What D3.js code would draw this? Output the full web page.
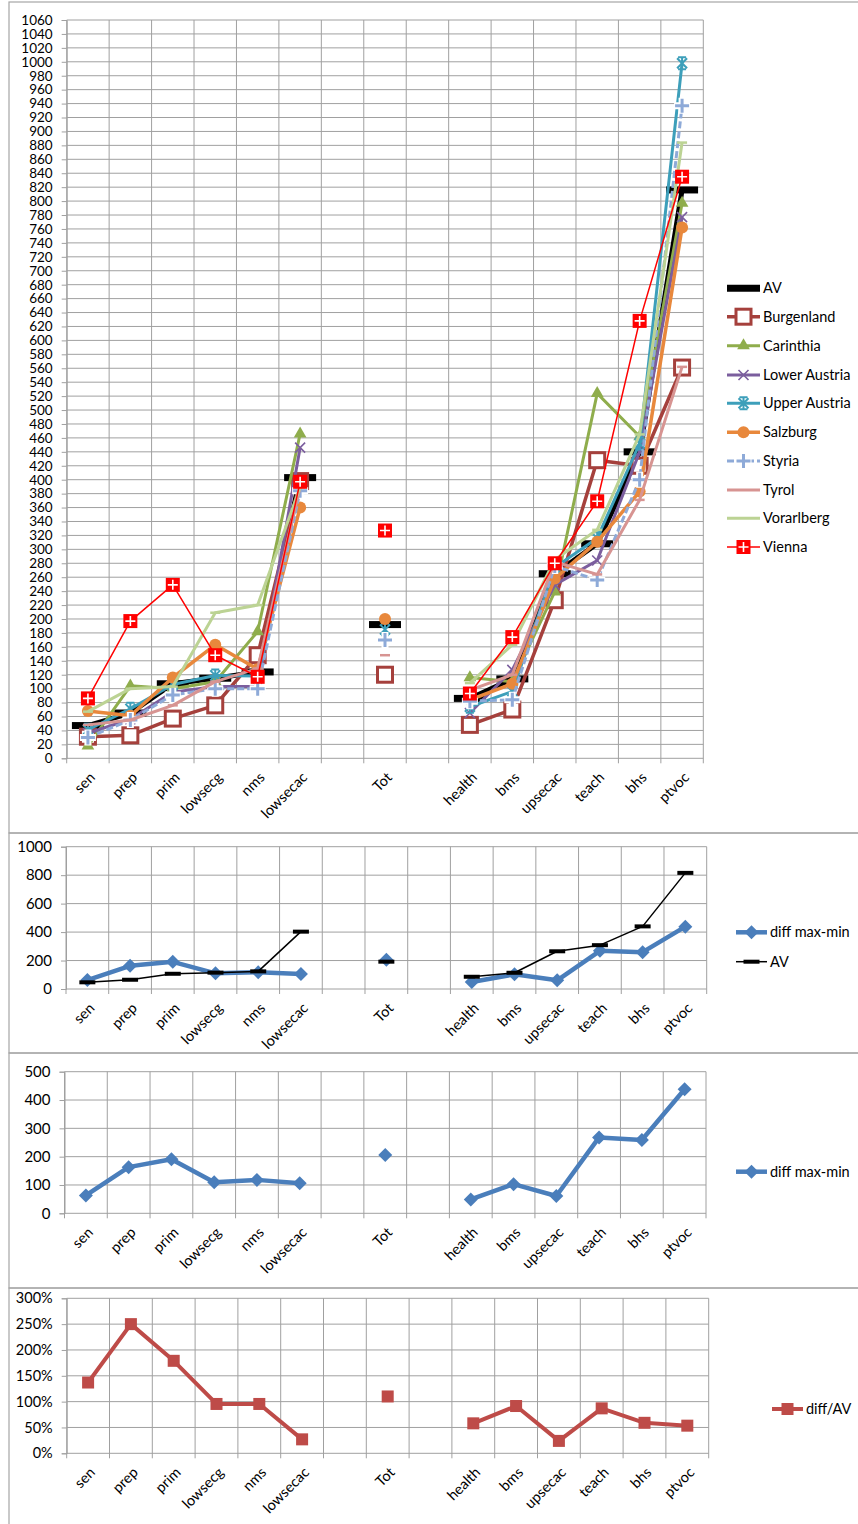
<!DOCTYPE html>
<html><head><meta charset="utf-8">
<script src="https://cdn.jsdelivr.net/npm/d3@7"></script>
<style>body{margin:0;background:#fff}svg{display:block}text{font-family:Lato,"Open Sans",sans-serif;fill:#000}</style>
</head><body><svg id="c" width="858" height="1524"></svg>
<script>
// ---------- DATA ----------
const categories = ["sen","prep","prim","lowsecg","nms","lowsecac","","Tot","","health","bms","upsecac","teach","bhs","ptvoc"];
const seriesNames = ["AV","Burgenland","Carinthia","Lower Austria","Upper Austria","Salzburg","Styria","Tyrol","Vorarlberg","Vienna"];
const avValues     = [47,65,107,115,124,403,null,192,null,86,114,265,308,440,816];
const burgenland   = [31,33,57,76,148,398,null,120,null,48,70,227,428,420,561];
const carinthia    = [18,104,100,110,182,466,null,null,null,116,110,239,524,462,797];
const lowerAustria = [36,56,95,103,103,446,null,null,null,65,127,249,284,440,777];
const upperAustria = [41,71,106,119,118,392,null,185,null,74,96,274,316,452,998];
const salzburg     = [68,61,116,163,128,360,null,200,null,84,107,258,311,383,762];
const styria       = [30,55,91,100,100,384,null,170,null,82,84,276,256,400,937];
const tyrol        = [48,55,76,110,129,390,null,148,null,98,120,282,264,371,562];
const vorarlberg   = [67,100,103,209,220,389,null,null,null,108,163,285,328,465,884];
const vienna       = [86,197,249,148,117,397,null,327,null,93,174,280,369,628,835];
const diffMaxMin   = [63,163,191,110,118,106,null,206,null,49,103,61,268,259,438];
const diffPerAV    = [1.37,2.50,1.79,0.955,0.955,0.27,null,1.10,null,0.58,0.915,0.24,0.87,0.59,0.535];
const mainTicks  = d3.range(0,1061,20);
const panel2Ticks = [0,200,400,600,800,1000];
const panel3Ticks = [0,100,200,300,400,500];
const panel4Ticks = [0,0.5,1,1.5,2,2.5,3];

// ---------- STYLE ----------
const mainSeries = [
  {name:seriesNames[0], values:avValues,     color:"#000000", w:5,   marker:"avdash"},
  {name:seriesNames[1], values:burgenland,   color:"#a5403c", w:3.5, marker:"hsquare"},
  {name:seriesNames[2], values:carinthia,    color:"#8fad4c", w:3,   marker:"triangle"},
  {name:seriesNames[3], values:lowerAustria, color:"#7b5e9e", w:3,   marker:"x"},
  {name:seriesNames[4], values:upperAustria, color:"#3d9fba", w:3,   marker:"star"},
  {name:seriesNames[5], values:salzburg,     color:"#e8883c", w:3.5, marker:"circle"},
  {name:seriesNames[6], values:styria,       color:"#8eaad8", w:3,   marker:"plus", dash:"7,3"},
  {name:seriesNames[7], values:tyrol,        color:"#d79492", w:3,   marker:"tick"},
  {name:seriesNames[8], values:vorarlberg,   color:"#bcd394", w:3,   marker:"tick"},
  {name:seriesNames[9], values:vienna,       color:"#ff0000", w:1.5, marker:"vienna"}
];
const gridColor = "#a0a0a0";
const svg = d3.select("#c");
svg.append("rect").attr("width",858).attr("height",1524).attr("fill","#fff");

// panel frames
[[2,833],[833,1053],[1053,1288],[1288,1540]].forEach(([t,b])=>{
  svg.append("rect").attr("x",9).attr("y",t).attr("width",870).attr("height",b-t)
    .attr("fill","none").attr("stroke","#a6a6a6").attr("stroke-width",1.2);
});

function drawMarker(g, type, color, x, y){
  const m = g.append("g").attr("transform",`translate(${x},${y})`);
  switch(type){
    case "avdash": m.append("rect").attr("x",-16).attr("y",-3.5).attr("width",32).attr("height",7).attr("fill",color); break;
    case "smalldash": m.append("rect").attr("x",-8).attr("y",-2).attr("width",16).attr("height",4).attr("fill",color); break;
    case "hsquare": m.append("rect").attr("x",-7.5).attr("y",-7.5).attr("width",15).attr("height",15).attr("fill","#fff").attr("stroke",color).attr("stroke-width",3); break;
    case "triangle": m.append("path").attr("d",d3.symbol(d3.symbolTriangle,70)()).attr("fill",color); break;
    case "x": m.append("path").attr("d","M-5,-5L5,5M-5,5L5,-5").attr("stroke",color).attr("stroke-width",1.6); break;
    case "star": m.append("path").attr("d","M-5,-5L5,5M-5,5L5,-5M0,-6L0,6M-4,-6L4,-6M-4,6L4,6").attr("stroke",color).attr("stroke-width",2); break;
    case "circle": m.append("circle").attr("r",6).attr("fill",color); break;
    case "plus":
      m.append("path").attr("d","M-8,0L8,0M0,-8L0,8").attr("stroke","#fff").attr("stroke-width",7);
      m.append("path").attr("d","M-7,0L7,0M0,-7L0,7").attr("stroke",color).attr("stroke-width",3); break;
    case "tick": m.append("path").attr("d","M-5,0L5,0").attr("stroke",color).attr("stroke-width",2.5); break;
    case "vienna":
      m.append("rect").attr("x",-7).attr("y",-7).attr("width",14).attr("height",14).attr("fill",color);
      m.append("path").attr("d","M-5,0L5,0M0,-5L0,5").attr("stroke","#fff").attr("stroke-width",1.6); break;
    case "diamond": m.append("path").attr("d","M0,-7L7,0L0,7L-7,0Z").attr("fill",color); break;
    case "square": m.append("rect").attr("x",-6).attr("y",-6).attr("width",12).attr("height",12).attr("fill",color); break;
  }
}

function drawPanel(cfg){
  const x = d3.scaleBand().domain(d3.range(categories.length)).range([cfg.x0,cfg.x1]).padding(0);
  const bw = x.bandwidth();
  const y = d3.scaleLinear().domain(cfg.domain).range([cfg.y0,cfg.y1]);
  const g = svg.append("g");
  g.selectAll(null).data(cfg.ticks).join("line")
    .attr("x1",cfg.x0).attr("x2",cfg.x1).attr("y1",d=>y(d)).attr("y2",d=>y(d))
    .attr("stroke",gridColor).attr("stroke-width",1);
  g.selectAll(null).data(d3.range(categories.length+1)).join("line")
    .attr("x1",i=>cfg.x0+i*bw).attr("x2",i=>cfg.x0+i*bw)
    .attr("y1",cfg.y1).attr("y2",cfg.y0+5)
    .attr("stroke",gridColor).attr("stroke-width",1);
  const ya = d3.axisLeft(y).tickValues(cfg.ticks).tickSize(5).tickPadding(cfg.pad||9)
    .tickFormat(cfg.fmt || d3.format("d"));
  const yg = g.append("g").attr("transform",`translate(${cfg.x0},0)`).call(ya);
  yg.select(".domain").attr("stroke",gridColor);
  yg.selectAll(".tick line").attr("stroke",gridColor);
  yg.selectAll("text").attr("font-size",cfg.fs||14).style("font-family","Lato,'Open Sans',sans-serif");
  g.selectAll(null).data(categories.map((c,i)=>({c,i})).filter(d=>d.c)).join("text")
    .attr("transform",d=>`translate(${x(d.i)+bw/2+8},${cfg.y0+20}) rotate(-45)`)
    .attr("text-anchor","end").attr("font-size",14.5).text(d=>d.c);
  cfg.series.forEach(s=>{
    const pts = s.values.map((v,i)=>({v,i}));
    const line = d3.line().defined(d=>d.v!=null).x(d=>x(d.i)+bw/2).y(d=>y(d.v));
    g.append("path").attr("d",line(pts)).attr("fill","none").attr("stroke",s.color)
      .attr("stroke-width",s.w).attr("stroke-linejoin","round").attr("stroke-dasharray",s.dash||null);
    pts.filter(d=>d.v!=null).forEach(d=>drawMarker(g,s.marker,s.color,x(d.i)+bw/2,y(d.v)));
  });
  cfg.legend.items.forEach((s,k)=>{
    const ly = cfg.legend.ys[k];
    const lx0 = cfg.legend.x0, lx1 = cfg.legend.x1;
    g.append("line").attr("x1",lx0).attr("x2",lx1).attr("y1",ly).attr("y2",ly)
      .attr("stroke",s.color).attr("stroke-width",s.w).attr("stroke-dasharray",s.dash||null);
    drawMarker(g, s.legendMarker||s.marker, s.color, (lx0+lx1)/2, ly);
    g.append("text").attr("x",lx1+3).attr("y",ly).attr("dy","0.35em").attr("font-size",14.5).text(s.name);
  });
}

drawPanel({x0:66.7,x1:703.3,y0:758.3,y1:20,domain:[0,1060],ticks:mainTicks,series:mainSeries,fs:13.5,
  legend:{x0:727,x1:760,ys:[288.3,316.7,345.7,375,403.3,432.3,461,490,518.3,547],
    items:mainSeries.map((s,i)=>Object.assign({},s,i===0?{legendMarker:"none",w:7}:{},
      (s.marker==="tick")?{legendMarker:"none"}:{}))}});

const diffSeries = {name:"diff max-min", values:diffMaxMin, color:"#4a7ebb", w:4.5, marker:"diamond"};
const avSmall = {name:"AV", values:avValues, color:"#000", w:1.5, marker:"smalldash"};
drawPanel({x0:66,x1:706.7,y0:989,y1:846.7,domain:[0,1000],ticks:panel2Ticks,series:[diffSeries,avSmall],fs:15,
  legend:{x0:736,x1:767,ys:[932.3,961.7],items:[diffSeries,avSmall]}});
drawPanel({x0:64.5,x1:706,y0:1213.3,y1:1071.7,domain:[0,500],ticks:panel3Ticks,series:[diffSeries],fs:15,
  legend:{x0:736,x1:767,ys:[1171.7],items:[diffSeries]}});
const ratioSeries = {name:"diff/AV", values:diffPerAV, color:"#be4b48", w:4, marker:"square"};
drawPanel({x0:66.7,x1:708.7,y0:1453.3,y1:1298.3,domain:[0,3],ticks:panel4Ticks,series:[ratioSeries],fs:14.5,
  fmt:d3.format(".0%"),
  legend:{x0:772,x1:803,ys:[1409],items:[ratioSeries]}});
</script></body></html>
